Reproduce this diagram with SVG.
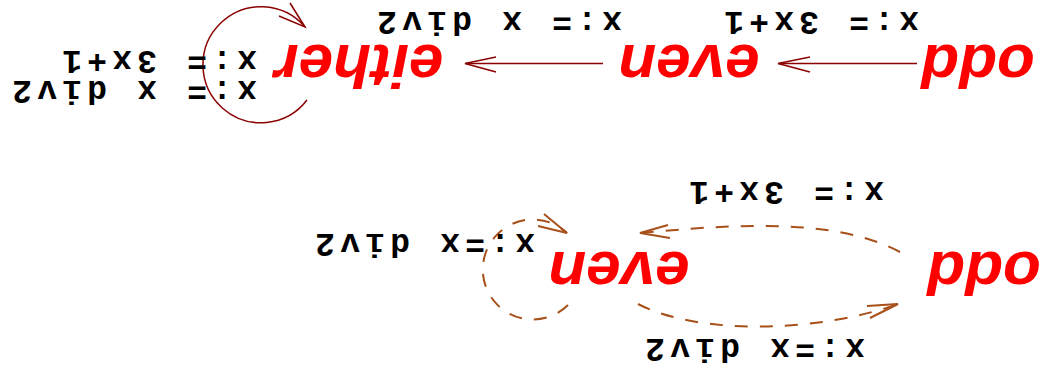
<svg xmlns="http://www.w3.org/2000/svg" width="1042" height="375" viewBox="0 0 1042 375">
<style>
.node{font-family:"Liberation Sans",Arial,sans-serif;font-weight:bold;font-style:italic;font-size:62px;fill:#ff0000;text-anchor:middle}
.lbl{font-family:"Liberation Mono","Courier New",monospace;font-weight:bold;font-size:33px;fill:#000;letter-spacing:5.2px;white-space:pre}
.solid{fill:none;stroke:#8b0000;stroke-width:1.5}
.dash{fill:none;stroke:#a8501a;stroke-width:2;stroke-dasharray:13 12}
.dhead{fill:none;stroke:#a8501a;stroke-width:2}
</style>
<rect width="1042" height="375" fill="#fff"/>
<g id="connectors">
  <path class="solid" d="M917,63.5 L779,63.5"/>
  <path class="solid" d="M810,57 L778,63.5 L810,72"/>
  <path class="solid" d="M603,63.5 L466,63.5"/>
  <path class="solid" d="M496,57 L465,63.5 L496,72"/>
  <path class="solid" d="M307,100 A58,58 0 1 1 305,27"/>
  <path class="solid" d="M279,16 L305,27 L290,3"/>
  <path class="dash" d="M900,252 C830,215 720,226 640,233"/>
  <path class="dhead" d="M668,225 L640,233 L670,238"/>
  <path class="dash" d="M638,304 C700,336 820,332 898,304"/>
  <path class="dhead" d="M867,306 L898,304 L870,318"/>
  <path class="dash" d="M568,305 A50,50 0 1 1 567,233"/>
  <path class="dhead" d="M544,214 L567,233 L538,226"/>
</g>
<g id="node-odd-top"><text class="node" transform="translate(978,45) rotate(180)">odd</text></g>
<g id="node-even-top"><text class="node" transform="translate(689,45) rotate(180)">even</text></g>
<g id="node-either"><text class="node" transform="translate(359,45) rotate(180)">either</text></g>
<g id="node-odd-bottom"><text class="node" transform="translate(984,252) rotate(180)">odd</text></g>
<g id="node-even-bottom"><text class="node" transform="translate(619,252) rotate(180)">even</text></g>
<g id="labels">
  <text class="lbl" transform="translate(919,12) rotate(180)">x:= 3x+1</text>
  <text class="lbl" transform="translate(622,12) rotate(180)">x:= x div2</text>
  <text class="lbl" transform="translate(257,51) rotate(180)">x:= 3x+1</text>
  <text class="lbl" transform="translate(257,81) rotate(180)">x:= x div2</text>
  <text class="lbl" transform="translate(884,182) rotate(180)">x:= 3x+1</text>
  <text class="lbl" transform="translate(865,339) rotate(180)">x:=x div2</text>
  <text class="lbl" transform="translate(535,234) rotate(180)">x:=x div2</text>
</g>
</svg>
